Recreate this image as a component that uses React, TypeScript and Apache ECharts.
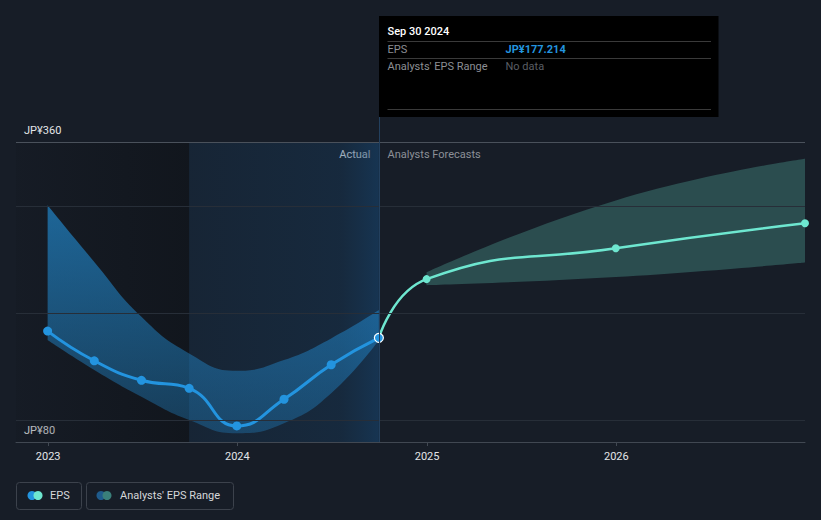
import React, { useEffect, useRef } from "react";
import * as echarts from "echarts";

const actualDates = ["2022-12-31", "2023-03-31", "2023-06-30", "2023-09-30", "2023-12-31", "2024-03-31", "2024-06-30", "2024-09-30"];
const epsActual = [183.5, 155.8, 137.6, 130.1, 95.0, 119.9, 152.1, 177.214];
const rangeLowActual = [175.1, 147.2, 122.3, 100.6, 88.2, 97.5, 125.5, 175.1];
const rangeHighActual = [300.9, 248.1, 196.8, 162.7, 146.5, 156.5, 176.7, 203.1];

const forecastDates = ["2024-09-30", "2024-12-31", "2025-12-31", "2026-12-31"];
const epsForecast = [177.214, 232.0, 260.8, 284.1];
const rangeDates = ["2024-12-31", "2025-12-31", "2026-12-31"];
const rangeLowForecast = [226.4, 234.0, 247.5];
const rangeHighForecast = [238.4, 305.5, 344.4];

const yLabelValues = [80, 360];
const gridValues = [100, 200, 300];
const xMin = "2022-10-31";
const xMax = "2026-12-31";
const pastEnd = "2023-09-30";
const nowDate = "2024-09-30";

const FONT = "Roboto, 'Noto Sans', sans-serif";
const BG = "#171d27";
const BLUE = "#2394df";
const TEAL = "#6ee7d0";

export default function App() {
  const ref = useRef<HTMLDivElement>(null);
  useEffect(() => {
    if (!ref.current) return;
    const chart = echarts.init(ref.current, undefined, { renderer: "svg" });
    const option: any = {
      animation: false,
      backgroundColor: BG,
      grid: { left: 16, right: 16, top: 142, bottom: 78, containLabel: false },
      xAxis: {
        type: "time",
        min: xMin,
        max: xMax,
        minInterval: 365 * 24 * 3600 * 1000,
        maxInterval: 366 * 24 * 3600 * 1000,
        axisLine: { show: true, lineStyle: { color: "#414852", width: 1 } },
        axisTick: { show: true, length: 4, lineStyle: { color: "#414852" } },
        splitLine: { show: false },
        axisLabel: {
          color: "#e3e5e8",
          fontFamily: FONT,
          fontSize: 11,
          margin: 9,
          formatter: (v: number) => String(new Date(v).getFullYear()),
        },
      },
      yAxis: {
        type: "value",
        min: 80,
        max: 360,
        interval: 20,
        axisLine: { show: false },
        axisTick: { show: false },
        splitLine: { show: false },
        axisLabel: {
          inside: true,
          margin: 8,
          verticalAlign: "bottom",
          padding: [0, 0, 6, 0],
          color: "#e3e5e8",
          fontFamily: FONT,
          fontSize: 11,
          formatter: (v: number) => (yLabelValues.includes(v) ? "JP¥" + v : ""),
        },
      },
      series: [
        {
          type: "line",
          name: "bg",
          data: [],
          silent: true,
          markArea: {
            silent: true,
            data: [
              [
                {
                  xAxis: xMin,
                  itemStyle: {
                    color: {
                      type: "linear", x: 0, y: 0, x2: 1, y2: 0,
                      colorStops: [
                        { offset: 0, color: "rgba(15,19,25,0.15)" },
                        { offset: 1, color: "rgba(15,19,25,0.7)" },
                      ],
                    },
                  },
                },
                { xAxis: pastEnd },
              ],
              [
                {
                  xAxis: pastEnd,
                  itemStyle: {
                    color: {
                      type: "linear", x: 0, y: 0, x2: 1, y2: 0,
                      colorStops: [
                        { offset: 0, color: "rgba(22,60,95,0.25)" },
                        { offset: 0.8, color: "rgba(22,60,95,0.4)" },
                        { offset: 1, color: "rgba(22,65,105,0.65)" },
                      ],
                    },
                  },
                },
                { xAxis: nowDate },
              ],
            ],
          },
          markLine: {
            silent: true,
            symbol: "none",
            label: { show: false },
            data: [
              ...gridValues.map((v) => ({ yAxis: v, lineStyle: { color: "#272e38", width: 1, type: "solid" } })),
              { yAxis: 360, lineStyle: { color: "#4a515b", width: 1, type: "solid" } },
              { xAxis: nowDate, lineStyle: { color: "#23405e", width: 1, type: "solid" } },
            ],
          },
        },
        {
          type: "line",
          name: "rangeLowA",
          stack: "a",
          smooth: true,
          symbol: "none",
          silent: true,
          lineStyle: { opacity: 0 },
          data: actualDates.map((d, i) => [d, rangeLowActual[i]]),
        },
        {
          type: "line",
          name: "rangeA",
          stack: "a",
          smooth: true,
          symbol: "none",
          silent: true,
          lineStyle: { opacity: 0 },
          areaStyle: {
            opacity: 1,
            color: {
              type: "linear", x: 0, y: 0, x2: 0, y2: 1,
              colorStops: [
                { offset: 0, color: "rgba(35,148,223,0.62)" },
                { offset: 1, color: "rgba(35,148,223,0.3)" },
              ],
            },
          },
          data: actualDates.map((d, i) => [d, rangeHighActual[i] - rangeLowActual[i]]),
        },
        {
          type: "line",
          name: "rangeLowF",
          stack: "f",
          smooth: true,
          symbol: "none",
          silent: true,
          lineStyle: { opacity: 0 },
          data: rangeDates.map((d, i) => [d, rangeLowForecast[i]]),
        },
        {
          type: "line",
          name: "rangeF",
          stack: "f",
          smooth: true,
          symbol: "none",
          silent: true,
          lineStyle: { opacity: 0 },
          areaStyle: { opacity: 1, color: "rgba(88,190,172,0.3)" },
          data: rangeDates.map((d, i) => [d, rangeHighForecast[i] - rangeLowForecast[i]]),
        },
        {
          type: "line",
          name: "EPS forecast",
          smooth: true,
          symbol: "circle",
          symbolSize: 8,
          showSymbol: true,
          lineStyle: { color: TEAL, width: 2.5 },
          itemStyle: { color: TEAL },
          data: forecastDates.map((d, i) =>
            i === 0 ? { value: [d, epsForecast[i]], symbolSize: 0 } : [d, epsForecast[i]]
          ),
        },
        {
          type: "line",
          name: "EPS",
          smooth: true,
          symbol: "circle",
          symbolSize: 9,
          lineStyle: { color: BLUE, width: 3 },
          itemStyle: { color: BLUE },
          data: actualDates.map((d, i) =>
            i === actualDates.length - 1
              ? { value: [d, epsActual[i]], itemStyle: { color: BLUE, borderColor: "#ffffff", borderWidth: 1.2 } }
              : [d, epsActual[i]]
          ),
        },
      ],
    };
    chart.setOption(option);

    const px = chart.convertToPixel({ xAxisIndex: 0 }, nowDate) as number;
    const x0 = Math.round(px) + 0.5;
    const tipRight = 719;
    const sepL = x0 + 8;
    const sepR = tipRight - 8;
    const valX = x0 + 126;
    const textBase = { fontFamily: FONT, fontSize: 11 };

    chart.setOption({
      graphic: [
        { type: "line", shape: { x1: x0, y1: 117, x2: x0, y2: 142 }, style: { stroke: "#23405e", lineWidth: 1 }, silent: true },
        { type: "rect", shape: { x: x0 - 0.5, y: 16, width: tipRight - x0, height: 101 }, style: { fill: "#000000" }, silent: true },
        { type: "text", x: sepL, y: 31, style: { ...textBase, text: "Sep 30 2024", fill: "#ffffff", fontWeight: 500, verticalAlign: "middle" } },
        { type: "line", shape: { x1: sepL, y1: 41.5, x2: sepR, y2: 41.5 }, style: { stroke: "#3a3a3a", lineWidth: 1 } },
        { type: "text", x: sepL, y: 49, style: { ...textBase, text: "EPS", fill: "#8c8f94", verticalAlign: "middle" } },
        { type: "text", x: valX, y: 49, style: { ...textBase, text: "JP¥177.214", fill: BLUE, fontWeight: "bold", verticalAlign: "middle" } },
        { type: "line", shape: { x1: sepL, y1: 58.5, x2: sepR, y2: 58.5 }, style: { stroke: "#3a3a3a", lineWidth: 1 } },
        { type: "text", x: sepL, y: 66, style: { ...textBase, text: "Analysts' EPS Range", fill: "#8c8f94", verticalAlign: "middle" } },
        { type: "text", x: valX, y: 66, style: { ...textBase, text: "No data", fill: "#5a5e64", verticalAlign: "middle" } },
        { type: "line", shape: { x1: sepL, y1: 109.5, x2: sepR, y2: 109.5 }, style: { stroke: "#3a3a3a", lineWidth: 1 } },
        { type: "text", x: x0 - 9, y: 154, style: { ...textBase, text: "Actual", fill: "#ffffff", align: "right", verticalAlign: "middle" } },
        { type: "text", x: x0 + 8, y: 154, style: { ...textBase, text: "Analysts Forecasts", fill: "#8c9097", verticalAlign: "middle" } },
        // legend
        { type: "rect", shape: { x: 16.5, y: 482.5, width: 65, height: 27, r: 3 }, style: { fill: "none", stroke: "#3c424c", lineWidth: 1 } },
        { type: "circle", shape: { cx: 32, cy: 495.5, r: 4.5 }, style: { fill: BLUE } },
        { type: "circle", shape: { cx: 38, cy: 495.5, r: 4.5 }, style: { fill: TEAL } },
        { type: "text", x: 50, y: 495.5, style: { ...textBase, text: "EPS", fill: "#d5d7da", verticalAlign: "middle" } },
        { type: "rect", shape: { x: 86.5, y: 482.5, width: 147, height: 27, r: 3 }, style: { fill: "none", stroke: "#3c424c", lineWidth: 1 } },
        { type: "circle", shape: { cx: 101, cy: 495.5, r: 4.5 }, style: { fill: "#1f5b8c" } },
        { type: "circle", shape: { cx: 107, cy: 495.5, r: 4.5 }, style: { fill: "#3a7f7a" } },
        { type: "text", x: 120, y: 495.5, style: { ...textBase, text: "Analysts' EPS Range", fill: "#d5d7da", verticalAlign: "middle" } },
      ],
    });

    return () => chart.dispose();
  }, []);
  return <div ref={ref} style={{ position: "fixed", left: 0, top: 0, width: 821, height: 520, background: BG }} />;
}
